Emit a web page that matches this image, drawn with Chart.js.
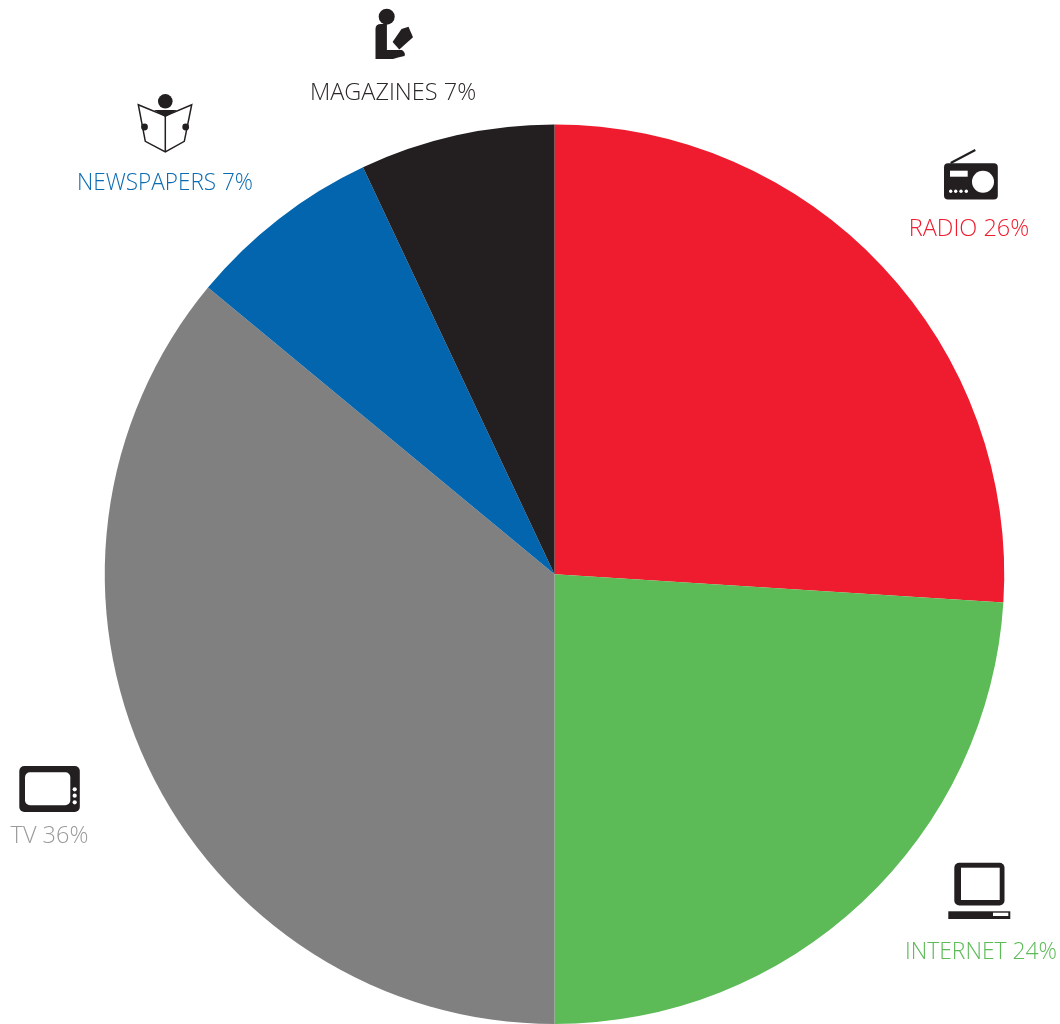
<!DOCTYPE html>
<html><head><meta charset="utf-8">
<style>html,body{margin:0;padding:0;background:#fff}#w{position:relative;width:1060px;height:1024px}canvas{display:block}</style>
<script src="https://cdn.jsdelivr.net/npm/chart.js@4"></script></head>
<body><div id="w"><canvas id="c" width="1060" height="1024"></canvas></div>
<script>
const categories = ["RADIO", "INTERNET", "TV", "NEWSPAPERS", "MAGAZINES"];
const shares = [26, 24, 36, 7, 7];
const sliceColors = ["#ee1c2e", "#5cbb57", "#808080", "#0265ae", "#231f20"];
const labelColors = ["#ee1c2e", "#5cbb57", "#9a9a9a", "#0b6bb2", "#2c2829"];

const labelAnchors = [[969,235.5],[981,959],[49.5,843],[165,190],[393,100]];
const labelWidths = [121,152,80,176,167];
const K = "#231f20";

function rr(ctx,x0,y0,x1,y1,r,fill){ctx.fillStyle=fill;ctx.beginPath();ctx.roundRect(x0,y0,x1-x0,y1-y0,r);ctx.fill();}
function dot(ctx,x,y,r,fill){ctx.fillStyle=fill;ctx.beginPath();ctx.arc(x,y,r,0,Math.PI*2);ctx.fill();}
function poly(ctx,pts,fill){ctx.fillStyle=fill;ctx.beginPath();pts.forEach((p,i)=>i?ctx.lineTo(p[0],p[1]):ctx.moveTo(p[0],p[1]));ctx.closePath();ctx.fill();}

const icons = {
  radio(ctx){
    ctx.strokeStyle=K;ctx.lineWidth=2.2;ctx.beginPath();ctx.moveTo(950.7,163);ctx.lineTo(975.3,150);ctx.stroke();
    rr(ctx,944,163.3,997.8,199.5,4,K);
    ctx.fillStyle="#fff";ctx.fillRect(950,170.7,17.7,6);
    dot(ctx,983,181.7,11,"#fff");
    [950.7,955.7,961,966.3].forEach(x=>dot(ctx,x,191.3,1.7,"#fff"));
  },
  internet(ctx){
    rr(ctx,954.3,862.7,1004.5,905.5,5,K);
    ctx.fillStyle="#fff";ctx.fillRect(961,867.7,38.7,32.3);
    ctx.fillStyle=K;ctx.fillRect(948.3,911.3,62,7.7);
    ctx.fillStyle="#fff";ctx.fillRect(993,912.7,15.3,3.3);
  },
  tv(ctx){
    rr(ctx,19.3,766,79.8,811.9,5,K);
    rr(ctx,25,772.3,70.3,805.3,5,"#fff");
    [789.3,795.7,802.3].forEach(y=>dot(ctx,74.7,y,2.1,"#fff"));
  },
  newspapers(ctx){
    dot(ctx,165.3,101.3,7.3,K);
    ctx.strokeStyle=K;ctx.lineWidth=1.5;ctx.lineJoin="miter";ctx.beginPath();
    ctx.moveTo(138.3,104.7);ctx.lineTo(165.3,116);ctx.lineTo(191.7,104.7);ctx.lineTo(184.3,141.3);ctx.lineTo(165.3,152);ctx.lineTo(145.3,141.3);ctx.closePath();
    ctx.moveTo(165.3,113);ctx.lineTo(165.3,152);ctx.stroke();
    poly(ctx,[[154,110],[177,110],[165.3,117]],K);
    dot(ctx,144.5,127,3.4,K);dot(ctx,185.7,127,3.4,K);
  },
  magazines(ctx){
    dot(ctx,386.7,16.7,8,K);
    ctx.fillStyle=K;ctx.beginPath();ctx.moveTo(375.5,59);ctx.lineTo(375.5,29);ctx.quadraticCurveTo(375.5,24,381,24);ctx.lineTo(386.9,24);ctx.lineTo(386.9,50);ctx.lineTo(402,50);ctx.quadraticCurveTo(406,53,404.5,56);ctx.lineTo(398,57.5);ctx.lineTo(393,59);ctx.closePath();ctx.fill();
    poly(ctx,[[392.6,42],[401.5,29],[408.5,26.8],[413,37.3],[399.3,49.6]],K);
  }
};

const annotate = {
  id:"annotate",
  afterDraw(chart){
    const ctx=chart.ctx;ctx.save();
    ctx.font='300 23.5px "Open Sans"';ctx.textAlign="center";ctx.textBaseline="alphabetic";
    categories.forEach((name,i)=>{
      ctx.fillStyle=labelColors[i];
      ctx.fillText(name+" "+shares[i]+"%",labelAnchors[i][0],labelAnchors[i][1],labelWidths[i]);
    });
    categories.forEach(name=>{ctx.save();icons[name.toLowerCase()](ctx);ctx.restore();});
    ctx.restore();
  }
};

new Chart(document.getElementById("c"),{
  type:"pie",
  data:{labels:categories,datasets:[{data:shares,backgroundColor:sliceColors,borderWidth:0}]},
  options:{responsive:false,animation:false,
    layout:{padding:{left:104.5,right:55.5,top:124.5,bottom:-0.5}},
    plugins:{legend:{display:false},tooltip:{enabled:false}}},
  plugins:[annotate]
});
</script></body></html>
